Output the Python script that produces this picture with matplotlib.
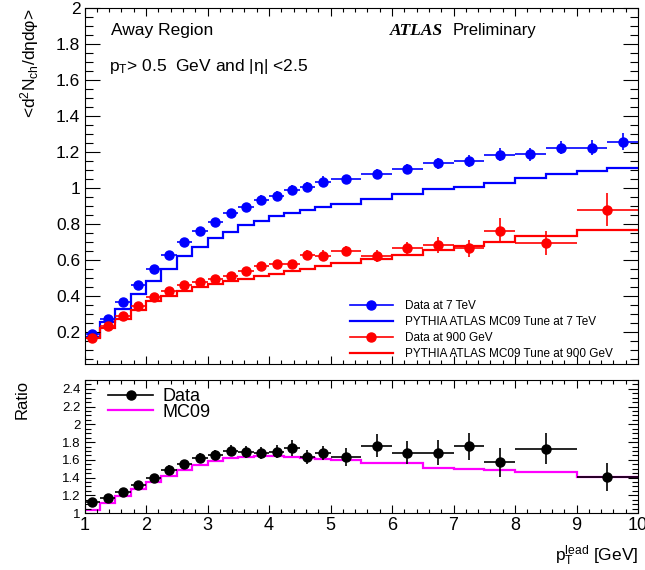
import numpy as np
import matplotlib
matplotlib.use("Agg")
import matplotlib.pyplot as plt
from matplotlib.lines import Line2D
from matplotlib.ticker import MultipleLocator, FuncFormatter

plt.rcParams['font.family'] = ['Liberation Sans', 'DejaVu Sans']
plt.rcParams['mathtext.default'] = 'regular'

# bin edges
edges_fine = [1.0, 1.25, 1.5, 1.75, 2.0, 2.25, 2.5, 2.75, 3.0, 3.25, 3.5, 3.75,
              4.0, 4.25, 4.5, 4.75, 5.0]
edges_7tev = edges_fine + [5.5, 6.0, 6.5, 7.0, 7.5, 8.0, 8.5, 9.0, 9.5, 10.0]
edges_900 = edges_fine + [5.5, 6.0, 6.5, 7.0, 7.5, 8.0, 9.0, 10.0]

# 7 TeV data and MC
data_7tev = [0.188, 0.270, 0.363, 0.459, 0.547, 0.628, 0.698, 0.762, 0.812, 0.858,
             0.895, 0.934, 0.957, 0.989, 1.007, 1.035,
             1.048, 1.077, 1.103, 1.136, 1.149, 1.184, 1.186, 1.224, 1.224, 1.257]
err_7tev = [0.008, 0.010, 0.012, 0.014, 0.016, 0.018, 0.019, 0.020, 0.021, 0.022,
            0.023, 0.024, 0.025, 0.026, 0.027, 0.028,
            0.023, 0.025, 0.027, 0.030, 0.032, 0.035, 0.035, 0.037, 0.040, 0.046]
mc_7tev = [0.168, 0.252, 0.326, 0.409, 0.480, 0.550, 0.619, 0.668, 0.720, 0.756,
           0.791, 0.817, 0.841, 0.859, 0.876, 0.893,
           0.910, 0.939, 0.967, 0.993, 1.007, 1.028, 1.054, 1.078, 1.093, 1.111]

# 900 GeV data and MC
data_900 = [0.165, 0.230, 0.289, 0.341, 0.391, 0.424, 0.457, 0.474, 0.493, 0.511,
            0.535, 0.567, 0.576, 0.576, 0.626, 0.622,
            0.650, 0.622, 0.663, 0.683, 0.663, 0.761, 0.693, 0.878]
err_900 = [0.008, 0.010, 0.011, 0.012, 0.013, 0.014, 0.015, 0.016, 0.017, 0.018,
           0.019, 0.020, 0.022, 0.024, 0.030, 0.030,
           0.026, 0.034, 0.037, 0.046, 0.046, 0.069, 0.065, 0.093]
mc_900 = [0.165, 0.220, 0.270, 0.322, 0.369, 0.396, 0.424, 0.446, 0.465, 0.480,
          0.493, 0.507, 0.521, 0.535, 0.548, 0.563,
          0.581, 0.604, 0.628, 0.656, 0.674, 0.696, 0.730, 0.763]

# ratio 7 TeV / 900 GeV
ratio_data = [1.119, 1.164, 1.236, 1.316, 1.396, 1.487, 1.548, 1.624, 1.655, 1.704,
              1.690, 1.674, 1.693, 1.731, 1.628, 1.678,
              1.632, 1.758, 1.678, 1.678, 1.753, 1.571, 1.727, 1.404]
ratio_err = [0.05, 0.045, 0.045, 0.045, 0.045, 0.05, 0.05, 0.055, 0.06, 0.065,
             0.065, 0.07, 0.07, 0.09, 0.08, 0.08,
             0.10, 0.13, 0.13, 0.14, 0.15, 0.16, 0.18, 0.16]
ratio_mc = [1.039, 1.110, 1.190, 1.267, 1.350, 1.419, 1.487, 1.544, 1.590, 1.617,
            1.632, 1.644, 1.640, 1.636, 1.617, 1.605,
            1.594, 1.567, 1.564, 1.507, 1.495, 1.487, 1.457, 1.407]

W, H = 645, 570


def fx(px):
    return px / W


def fy(py):
    return 1 - py / H


def centers(edges):
    e = np.asarray(edges)
    return 0.5 * (e[1:] + e[:-1]), 0.5 * (e[1:] - e[:-1])


fig = plt.figure(figsize=(W / 100, H / 100), dpi=100)
ax1 = fig.add_axes([fx(84.5), fy(364), fx(638) - fx(84.5), fy(8) - fy(364)])
ax2 = fig.add_axes([fx(84.5), fy(513), fx(638) - fx(84.5), fy(380) - fy(513)])

# top panel
x7, w7 = centers(edges_7tev)
x9, w9 = centers(edges_900)
ax1.stairs(mc_7tev, edges_7tev, color='#0000ff', lw=1.6, baseline=None)
ax1.stairs(mc_900, edges_900, color='#ff0000', lw=1.6, baseline=None)
ax1.errorbar(x7, data_7tev, xerr=w7, yerr=err_7tev, fmt='o', color='#0000ff',
             ms=6.5, elinewidth=1.2, capsize=0)
ax1.errorbar(x9, data_900, xerr=w9, yerr=err_900, fmt='o', color='#ff0000',
             ms=6.5, elinewidth=1.2, capsize=0)
ax1.set_xlim(1, 10)
ax1.set_ylim(0.02, 2)

# bottom panel
ax2.stairs(ratio_mc, edges_900, color='#ff00ff', lw=1.6, baseline=None)
ax2.errorbar(x9, ratio_data, xerr=w9, yerr=ratio_err, fmt='o', color='black',
             ms=6.5, elinewidth=1.2, capsize=0)
ax2.set_xlim(1, 10)
ax2.set_ylim(1, 2.5)

fmt = FuncFormatter(lambda v, p: '%g' % round(v, 2))
for ax in (ax1, ax2):
    ax.xaxis.set_major_locator(MultipleLocator(1))
    ax.xaxis.set_minor_locator(MultipleLocator(0.2))
    ax.yaxis.set_minor_locator(MultipleLocator(0.05))
    ax.yaxis.set_major_formatter(fmt)
    ax.xaxis.set_major_formatter(fmt)
    ax.tick_params(which='both', direction='in', top=True, right=True, width=0.8)
    for s in ax.spines.values():
        s.set_linewidth(0.8)

ax1.set_yticks([0.2, 0.4, 0.6, 0.8, 1.0, 1.2, 1.4, 1.6, 1.8, 2.0])
ax1.tick_params(axis='x', which='major', length=6, labelbottom=False)
ax1.tick_params(axis='x', which='minor', length=3)
ax1.tick_params(axis='y', which='major', length=11, labelsize=12.5, pad=3)
ax1.tick_params(axis='y', which='minor', length=6)

ax2.set_yticks([1, 1.2, 1.4, 1.6, 1.8, 2, 2.2, 2.4])
ax2.tick_params(axis='x', which='major', length=6, labelsize=13, pad=3)
ax2.tick_params(axis='x', which='minor', length=3)
ax2.tick_params(axis='y', which='major', length=7, labelsize=9.5, pad=3)
ax2.tick_params(axis='y', which='minor', length=4)

# texts
fig.text(fx(111), fy(31), 'Away Region', fontsize=12.5, va='center', ha='left')
fig.text(fx(109), fy(66), 'p$_{T}$> 0.5  GeV and |η| <2.5', fontsize=12.5,
         va='center', ha='left')
fig.text(fx(390), fy(31), 'ATLAS', fontsize=12.5, va='center', ha='left',
         family='Liberation Serif', weight='bold', style='italic')
fig.text(fx(453), fy(31), 'Preliminary', fontsize=12, va='center', ha='left')
fig.text(fx(30), fy(8), '<d$^{2}$N$_{ch}$/dηdφ>', fontsize=12.5, rotation=90,
         va='top', ha='center')
fig.text(fx(22), fy(380), 'Ratio', fontsize=12, rotation=90, va='top', ha='center')
fig.text(fx(638), fy(556), 'p$_{T}^{lead}$ [GeV]', fontsize=12.5, va='center',
         ha='right')

# legends
h1 = [Line2D([], [], color='#0000ff', marker='o', ms=6.5, lw=1.2),
      Line2D([], [], color='#0000ff', lw=1.6),
      Line2D([], [], color='#ff0000', marker='o', ms=6.5, lw=1.2),
      Line2D([], [], color='#ff0000', lw=1.6)]
l1 = ['Data at 7 TeV', 'PYTHIA ATLAS MC09 Tune at 7 TeV', 'Data at 900 GeV',
      'PYTHIA ATLAS MC09 Tune at 900 GeV']
ax1.legend(h1, l1, loc='upper left', bbox_to_anchor=(fx(350), fy(300)),
           bbox_transform=fig.transFigure, frameon=False, fontsize=8.5,
           handlelength=3.6, handletextpad=1.1, labelspacing=0.34,
           borderpad=0, borderaxespad=0)

h2 = [Line2D([], [], color='black', marker='o', ms=6.5, lw=1.2),
      Line2D([], [], color='#ff00ff', lw=1.6)]
ax2.legend(h2, ['Data', 'MC09'], loc='upper left', bbox_to_anchor=(fx(108), fy(388)),
           bbox_transform=fig.transFigure, frameon=False, fontsize=13,
           handlelength=2.5, handletextpad=0.5, labelspacing=-0.08,
           borderpad=0, borderaxespad=0)

fig.savefig('out.png', dpi=100)
